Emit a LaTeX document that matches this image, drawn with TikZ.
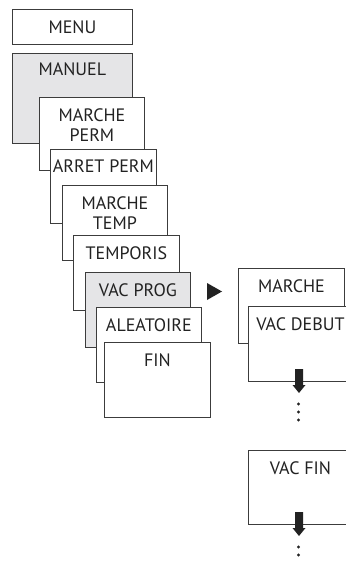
\documentclass[tikz,border=0pt]{standalone}
\usepackage{fontspec}
\setmainfont{PT Sans}
\definecolor{framegray}{HTML}{3C3C3C}
\definecolor{selgray}{HTML}{E5E5E7}
\definecolor{textdark}{HTML}{222222}
\tikzset{
  menubox/.style={draw=framegray, line width=0.8pt, fill=white, anchor=north west,
    minimum width=105pt, minimum height=75pt, inner sep=0pt},
  selbox/.style={menubox, fill=selgray},
  boxlabel/.style={anchor=north, align=center, inner sep=0pt, yshift=-11pt,
    text=textdark, font=\fontsize{18}{20.5}\selectfont},
}
\begin{document}
\begin{tikzpicture}[x=1pt, y=-1pt]
    \useasboundingbox (0,0) rectangle (345,561);

    % Hauptmenue
    \node[menubox, minimum width=120pt, minimum height=35pt, text=textdark,
      font=\fontsize{18}{20.5}\selectfont] (menu) at (12,9) {MENU};
    \node[selbox, minimum width=120pt, minimum height=90pt,
      label={[boxlabel, yshift=1pt]north:MANUEL}] (manuel) at (12,53) {};

    % Untermenue MANUEL (gestaffelt)
    \node[menubox, minimum height=73pt, label={[boxlabel]north:MARCHE\\PERM}] (mperm) at (39,97) {};
    \node[menubox, minimum width=106pt, minimum height=74pt, label={[boxlabel]north:ARRET PERM}] (aperm) at (50,149) {};
    \node[menubox, label={[boxlabel]north:MARCHE\\TEMP}] (mtemp) at (62,185) {};
    \node[menubox, minimum width=106pt, label={[boxlabel]north:TEMPORIS}] (tempo) at (73,235) {};
    \node[selbox, label={[boxlabel]north:VAC PROG}] (vacprog) at (85,272) {};
    \node[menubox, label={[boxlabel]north:ALEATOIRE}] (alea) at (96,307) {};
    \node[menubox, minimum width=106pt, label={[boxlabel]north:FIN}] (fin) at (104,342) {};

    % Pfeil nach rechts
    \fill[textdark] (207,283) -- (222,291.5) -- (207,300) -- cycle;

    % Untermenue VAC PROG
    \node[menubox, minimum width=106pt, label={[boxlabel]north:MARCHE}] (vmarche) at (238,268) {};
    \node[menubox, minimum width=104pt, label={[boxlabel]north:VAC DEBUT}] (vdebut) at (248,306) {};
    \node[menubox, minimum width=104pt, minimum height=74pt, label={[boxlabel]north:VAC FIN}] (vfin) at (248,450) {};

    % Pfeile nach unten und Punkte
    \foreach \ytop in {369,512} {
      \fill[textdark] (295,\ytop) -- (303,\ytop) -- (303,\ytop+16) -- (305.5,\ytop+16)
        -- (299,\ytop+24) -- (292.5,\ytop+16) -- (295,\ytop+16) -- cycle;
      \foreach \dy in {35,43,51}
        \fill[textdark] (298.5,\ytop+\dy) circle (1.6);
    }
\end{tikzpicture}
\end{document}
